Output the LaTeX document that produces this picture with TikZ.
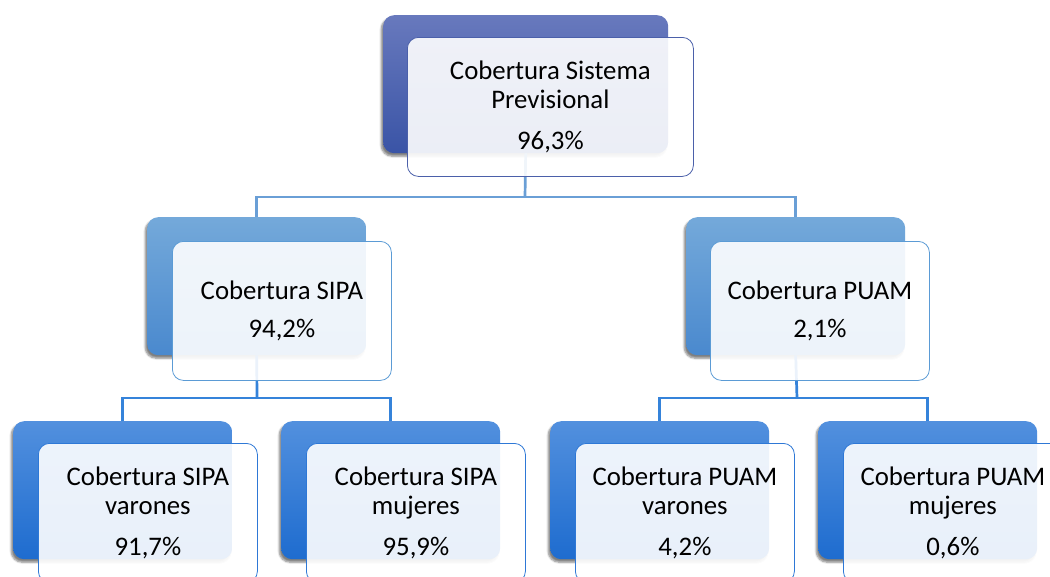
\documentclass[tikz,border=0pt]{standalone}
\usepackage{fontspec}
\setmainfont{Carlito}
\usetikzlibrary{shadows.blur}

\definecolor{topA}{HTML}{6879BD}
\definecolor{topB}{HTML}{3A54A6}
\definecolor{topE}{HTML}{4B60AA}
\definecolor{midA}{HTML}{74A9DA}
\definecolor{midB}{HTML}{4A89CE}
\definecolor{midE}{HTML}{5B9BD5}
\definecolor{lowA}{HTML}{5290DE}
\definecolor{lowB}{HTML}{1E6CCF}
\definecolor{lowE}{HTML}{2E78D6}
\definecolor{linkA}{HTML}{6A9FD6}
\definecolor{linkB}{HTML}{3583DA}

\tikzset{
  backbox/.style={rectangle, rounded corners=11pt, minimum width=219pt,
    minimum height=138pt, inner sep=0pt, anchor=north west, draw=none,
    blur shadow={shadow xshift=-2pt, shadow yshift=-3pt, shadow blur steps=6,
      shadow opacity=50}},
  frontbox/.style={rectangle, rounded corners=11pt, minimum width=219pt,
    minimum height=139pt, inner sep=0pt, anchor=north west, fill=white,
    fill opacity=0.9, text opacity=1, line width=0.8pt, align=center,
    font=\fontsize{26.8}{29}\selectfont},
  link/.style={line width=2.7pt},
}

\begin{document}
\begin{tikzpicture}[x=1pt, y=-1pt]
\useasboundingbox (0,0) rectangle (1050,576);
\clip (0,0) rectangle (1050,576);

% junction points of the connectors
\coordinate (busTop) at (525,197);
\coordinate (busL) at (257,398);
\coordinate (busR) at (797,398);

% back boxes
\node[backbox, minimum width=285pt, top color=topA, bottom color=topB] (rootB) at (383,15) {};
\node[backbox, top color=midA, bottom color=midB] (sipaB) at (147,217) {};
\node[backbox, top color=midA, bottom color=midB] (puamB) at (686,217) {};
\node[backbox, top color=lowA, bottom color=lowB] (svB) at (13,421) {};
\node[backbox, top color=lowA, bottom color=lowB] (smB) at (281,421) {};
\node[backbox, top color=lowA, bottom color=lowB] (pvB) at (550,421) {};
\node[backbox, top color=lowA, bottom color=lowB] (pmB) at (818,421) {};

% connectors
\draw[link, linkA] (rootB.south) -- (busTop);
\draw[link, linkA] (busTop) -| (sipaB.north);
\draw[link, linkA] (busTop) -| (puamB.north);
\draw[link, linkB] (sipaB.south) -- (busL);
\draw[link, linkB] (busL) -| (svB.north);
\draw[link, linkB] (busL) -| (smB.north);
\draw[link, linkB] (puamB.south) -- (busR);
\draw[link, linkB] (busR) -| (pvB.north);
\draw[link, linkB] (busR) -| (pmB.north);

% front boxes with the labels
\node[frontbox, minimum width=286pt, draw=topE] (root) at (407,37)
  {Cobertura Sistema\\Previsional\\[12pt]96,3\%};
\node[frontbox, draw=midE] (sipa) at (172,241)
  {Cobertura SIPA\\[9pt]94,2\%};
\node[frontbox, draw=midE] (puam) at (710,241)
  {Cobertura PUAM\\[9pt]2,1\%};
\node[frontbox, draw=lowE] (sv) at (38,443)
  {Cobertura SIPA\\varones\\[12pt]91,7\%};
\node[frontbox, draw=lowE] (sm) at (306,443)
  {Cobertura SIPA\\mujeres\\[12pt]95,9\%};
\node[frontbox, draw=lowE] (pv) at (575,443)
  {Cobertura PUAM\\varones\\[12pt]4,2\%};
\node[frontbox, draw=lowE] (pm) at (843,443)
  {Cobertura PUAM\\mujeres\\[12pt]0,6\%};
\end{tikzpicture}
\end{document}
